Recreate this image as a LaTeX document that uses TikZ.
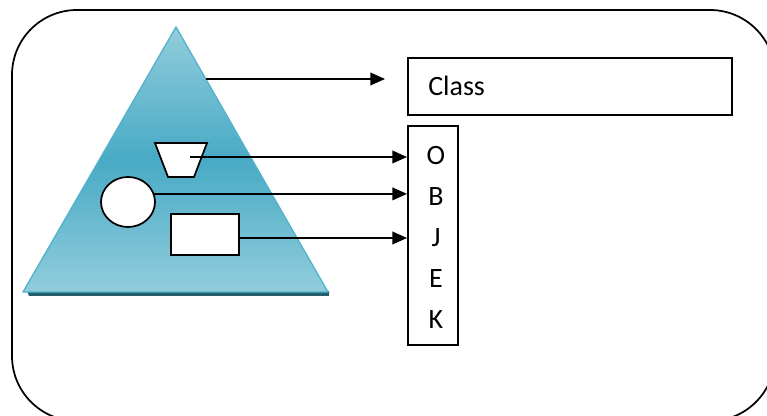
\documentclass[tikz,border=0pt]{standalone}
\usepackage{fontspec}
\setmainfont{Carlito}
\usetikzlibrary{arrows.meta,shapes.geometric,calc}
\definecolor{tealtop}{RGB}{146,205,220}
\definecolor{tealmid}{RGB}{72,170,197}
\definecolor{tealedge}{RGB}{84,178,204}
\definecolor{tealshadow}{RGB}{38,95,110}

\begin{document}
\begin{tikzpicture}[x=0.75pt,y=-0.75pt,
  outline/.style={draw=black,line width=1.3pt},
  whitebox/.style={outline,fill=white,inner sep=0pt},
  link/.style={draw=black,line width=1.3pt,-{Triangle[length=11pt,width=9.5pt]}},
  letter/.style={font=\fontsize{21}{25}\selectfont,inner sep=0pt,anchor=base}]
\path[use as bounding box] (0,0) rectangle (767,416);
\clip (0,0) rectangle (767,416);

% outer rounded frame (runs past the right and bottom edges)
\draw[line width=1.3pt,rounded corners=48.75pt] (12,10) rectangle (775,421);

% shaded triangle with its base shadow
\coordinate (apex) at (176,27);
\coordinate (baseL) at (23,292);
\coordinate (baseR) at (328,292);
\fill[tealshadow] (27,291) -- (329,291) -- (329,296) -- (29,296) -- cycle;
\path[top color=tealtop,bottom color=tealtop,middle color=tealmid]
  (apex) -- (baseL) -- (baseR) -- cycle;
\draw[tealedge,line width=1pt,line join=round] (apex) -- (baseL) -- (baseR) -- cycle;

% shapes inside the triangle
\draw[outline,fill=white] (155,143) -- (207,143) -- (194,177) -- (168,177) -- cycle;
\coordinate (trapout) at (190,157);
\node[whitebox,ellipse,minimum width=40.5pt,minimum height=37.5pt] (circ) at (128,202) {};
\node[whitebox,minimum width=51pt,minimum height=30.75pt] (rect) at (205,234.5) {};
\coordinate (rectout) at (239,238);

% class box
\node[outline,anchor=north west,minimum width=243pt,minimum height=42.75pt,inner sep=0pt]
  (classbox) at (407,57) {};
\node[letter,anchor=base west] (classlbl) at (428,95.5) {Class};

% object box with its letters
\node[outline,anchor=north west,minimum width=37.5pt,minimum height=164.25pt,inner sep=0pt]
  (objbox) at (407,125) {};
\node[letter] (lO) at (436,165) {O};
\node[letter] (lB) at (436,206) {B};
\node[letter] (lJ) at (436,247) {J};
\node[letter] (lE) at (436,288) {E};
\node[letter] (lK) at (436,329) {K};

% connectors
\coordinate (triout) at (206,79);
\coordinate (classtip) at (385,79);
\draw[link] (triout) -- (classtip);
\draw[link] (trapout) -- (trapout -| objbox.west);
\draw[link] (circ.17) -- (circ.17 -| objbox.west);
\draw[link] (rectout) -- (rectout -| objbox.west);
\end{tikzpicture}
\end{document}
